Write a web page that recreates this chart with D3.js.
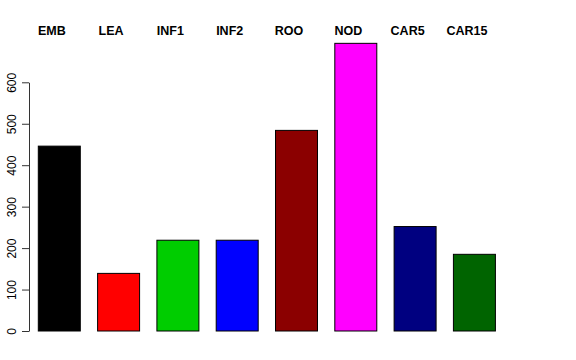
<!DOCTYPE html>
<html lang="en">
<head>
  <meta charset="UTF-8">
  <title>Bar chart</title>
  <script src="https://cdn.jsdelivr.net/npm/d3@7"></script>
  <style>
    body { margin: 0; background: #fff; }
    svg { display: block; font-family: "Liberation Sans", Arial, Helvetica, sans-serif; }
    .bar { stroke: #000; stroke-width: 1; }
    .label { font-weight: bold; font-size: 12.5px; }
    .axis text { font-size: 12px; }
  </style>
</head>
<body>
  <div id="chart"></div>
  <script>
    const categories = ['EMB', 'LEA', 'INF1', 'INF2', 'ROO', 'NOD', 'CAR5', 'CAR15'];
    const values = [446, 139, 219, 219, 484, 694, 252, 185];
    const colors = ['#000000', '#ff0000', '#00cd00', '#0000ff', '#8b0000', '#ff00ff', '#000080', '#006400'];
    const yTicks = [0, 100, 200, 300, 400, 500, 600];

    const width = 576;
    const height = 360;

    const svg = d3.select('#chart').append('svg')
      .attr('width', width)
      .attr('height', height);

    const x = d3.scaleBand()
      .domain(categories)
      .range([38.3, 495.4])
      .paddingInner(0.292)
      .paddingOuter(0);

    const y = d3.scaleLinear()
      .domain([0, 600])
      .range([331, 82.3]);

    // bars
    svg.selectAll('.bar')
      .data(categories)
      .join('rect')
      .attr('class', 'bar')
      .attr('x', d => x(d))
      .attr('width', x.bandwidth())
      .attr('y', (d, i) => y(values[i]))
      .attr('height', (d, i) => y(0) - y(values[i]))
      .attr('fill', (d, i) => colors[i]);

    // category labels along the top, slightly left of bar centres
    svg.selectAll('.label')
      .data(categories)
      .join('text')
      .attr('class', 'label')
      .attr('x', d => x(d) + x.bandwidth() / 2 - 7.5)
      .attr('y', 35)
      .attr('text-anchor', 'middle')
      .text(d => d);

    // y axis, R style with rotated tick labels
    const axis = svg.append('g')
      .attr('class', 'axis')
      .attr('transform', 'translate(29,0)')
      .call(d3.axisLeft(y).tickValues(yTicks).tickSize(7).tickPadding(0).tickSizeOuter(0));

    axis.select('.domain').attr('stroke', '#333');
    axis.selectAll('.tick line').attr('stroke', '#333');
    axis.selectAll('.tick text')
      .attr('x', null)
      .attr('text-anchor', 'middle')
      .attr('transform', 'translate(-17,0) rotate(-90)')
      .attr('dy', '0.35em')
      .attr('fill', '#000');
  </script>
</body>
</html>
